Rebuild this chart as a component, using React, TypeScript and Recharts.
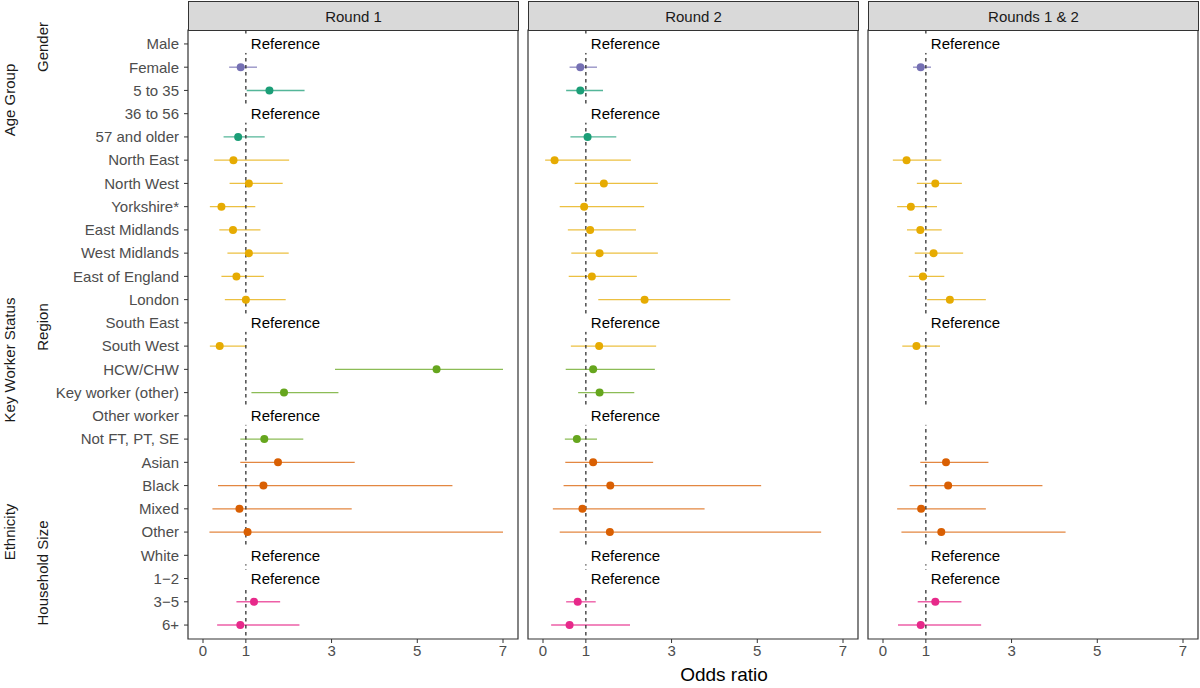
import React from "react"
import { ScatterChart, Scatter, XAxis, YAxis, ErrorBar, ReferenceArea } from "recharts"

if (typeof document !== "undefined") document.body.style.margin = "0"

const categories = [
  "Male", "Female",
  "5 to 35", "36 to 56", "57 and older",
  "North East", "North West", "Yorkshire*", "East Midlands", "West Midlands",
  "East of England", "London", "South East", "South West",
  "HCW/CHW", "Key worker (other)", "Other worker", "Not FT, PT, SE",
  "Asian", "Black", "Mixed", "Other", "White",
  "1\u22122", "3\u22125", "6+",
]

const rowGroups = [
  "Gender", "Gender",
  "Age Group", "Age Group", "Age Group",
  "Region", "Region", "Region", "Region", "Region", "Region", "Region", "Region", "Region",
  "Key Worker Status", "Key Worker Status", "Key Worker Status", "Key Worker Status",
  "Ethnicity", "Ethnicity", "Ethnicity", "Ethnicity", "Ethnicity",
  "Household Size", "Household Size", "Household Size",
]

const groupNames = ["Gender", "Age Group", "Region", "Key Worker Status", "Ethnicity", "Household Size"]
const groupColors = ["#7570B3", "#1B9E77", "#E6AB02", "#66A61E", "#D95F02", "#E7298A"]

const panelTitles = ["Round 1", "Round 2", "Rounds 1 & 2"]

// odds ratio, lower CI, upper CI (null = reference level / not estimated)
const r1Est = [null, 0.88, 1.55, null, 0.82, 0.71, 1.07, 0.43, 0.70, 1.07, 0.78, 1.00, null, 0.39, 5.45, 1.89, null, 1.43, 1.75, 1.41, 0.85, 1.04, null, null, 1.19, 0.87]
const r1Lo = [null, 0.61, 1.02, null, 0.48, 0.26, 0.62, 0.16, 0.38, 0.57, 0.43, 0.51, null, 0.16, 3.08, 1.13, null, 0.87, 0.87, 0.35, 0.22, 0.15, null, null, 0.78, 0.33]
const r1Hi = [null, 1.26, 2.37, null, 1.44, 2.01, 1.86, 1.22, 1.34, 2.00, 1.42, 1.93, null, 1.01, 7.00, 3.16, null, 2.34, 3.54, 5.82, 3.47, 7.00, null, null, 1.80, 2.25]

const r2Est = [null, 0.87, 0.87, null, 1.04, 0.27, 1.42, 0.96, 1.10, 1.32, 1.14, 2.37, null, 1.31, 1.17, 1.32, null, 0.79, 1.17, 1.57, 0.92, 1.56, null, null, 0.81, 0.62]
const r2Lo = [null, 0.62, 0.54, null, 0.64, 0.05, 0.74, 0.39, 0.58, 0.66, 0.60, 1.29, null, 0.65, 0.53, 0.82, null, 0.51, 0.52, 0.48, 0.23, 0.39, null, null, 0.54, 0.19]
const r2Hi = [null, 1.26, 1.40, null, 1.71, 2.05, 2.68, 2.36, 2.17, 2.68, 2.19, 4.37, null, 2.64, 2.61, 2.13, null, 1.26, 2.57, 5.09, 3.77, 6.49, null, null, 1.23, 2.03]

const r3Est = [null, 0.88, null, null, null, 0.55, 1.22, 0.65, 0.87, 1.18, 0.93, 1.56, null, 0.78, null, null, null, null, 1.47, 1.52, 0.89, 1.36, null, null, 1.22, 0.88]
const r3Lo = [null, 0.70, null, null, null, 0.23, 0.79, 0.33, 0.56, 0.74, 0.60, 1.03, null, 0.45, null, null, null, null, 0.87, 0.62, 0.33, 0.43, null, null, 0.81, 0.35]
const r3Hi = [null, 1.12, null, null, null, 1.36, 1.84, 1.26, 1.37, 1.87, 1.43, 2.40, null, 1.33, null, null, null, null, 2.46, 3.72, 2.40, 4.26, null, null, 1.83, 2.29]

const refRows12 = ["Male", "36 to 56", "South East", "Other worker", "White", "1\u22122"]
const refRows3 = ["Male", "South East", "Other worker", "White", "1\u22122"]
const blankRefRows3 = ["Other worker"]

const xTicks = [0, 1, 3, 5, 7]
const xDomain = [-0.35, 7.35]
const yDomain = [-0.6, 25.6]
const yTicks = categories.map((_, i) => i)

const FONT = "'Liberation Sans', Arial, Helvetica, sans-serif"

type Row = { x: number; y: number; err: [number, number] }

function buildGroup(est: (number | null)[], lo: (number | null)[], hi: (number | null)[], group: string): Row[] {
  const out: Row[] = []
  est.forEach((e, i) => {
    if (e == null || rowGroups[i] !== group) return
    out.push({ x: e, y: i, err: [e - (lo[i] as number), (hi[i] as number) - e] })
  })
  return out
}

interface PanelProps {
  est: (number | null)[]
  lo: (number | null)[]
  hi: (number | null)[]
  refRows: string[]
  blankRows: string[]
  showY: boolean
  width: number
  marginLeft: number
}

function RefLabel(props: any) {
  const { cx, cy, payload } = props
  return (
    <g>
      <rect x={cx - 2} y={cy - 9} width={74} height={18} fill="#ffffff" />
      {payload.text ? (
        <text x={cx + 5} y={cy} dy="0.36em" fontSize={15} fontFamily={FONT} fill="#000000">
          {payload.text}
        </text>
      ) : null}
    </g>
  )
}

function Panel({ est, lo, hi, refRows, blankRows, showY, width, marginLeft }: PanelProps) {
  const refData = refRows.map(r => ({
    x: 1,
    y: categories.indexOf(r),
    text: blankRows.includes(r) ? "" : "Reference",
  }))
  const vline = [{ x: 1, y: yDomain[0] }, { x: 1, y: yDomain[1] }]

  return (
    <ScatterChart width={width} height={688} margin={{ top: 30, right: 2, bottom: 25, left: marginLeft }}>
      <XAxis
        type="number"
        dataKey="x"
        domain={xDomain}
        ticks={xTicks}
        allowDataOverflow
        axisLine={false}
        tickLine={{ stroke: "#333333" }}
        tickSize={4}
        height={24}
        tick={{ fill: "#4D4D4D", fontSize: 15, fontFamily: FONT }}
      />
      <YAxis
        type="number"
        dataKey="y"
        domain={yDomain}
        ticks={yTicks}
        interval={0}
        reversed
        allowDataOverflow
        hide={!showY}
        width={188}
        axisLine={false}
        tickLine={{ stroke: "#333333" }}
        tickSize={4}
        tickMargin={5}
        tickFormatter={(v: number) => categories[v] ?? ""}
        tick={{ fill: "#4D4D4D", fontSize: 15, fontFamily: FONT }}
      />
      <Scatter
        data={vline}
        line={{ stroke: "#333333", strokeWidth: 1.3, strokeDasharray: "3.5 3.5" }}
        shape={() => <g />}
        isAnimationActive={false}
      />
      {groupNames.map((g, gi) => (
        <Scatter
          key={g}
          data={buildGroup(est, lo, hi, g)}
          fill={groupColors[gi]}
          shape={(p: any) => <circle cx={p.cx} cy={p.cy} r={4} fill={groupColors[gi]} />}
          isAnimationActive={false}
        >
          <ErrorBar
            dataKey="err"
            direction="x"
            width={0}
            stroke={groupColors[gi]}
            strokeWidth={1.4}
            strokeOpacity={0.75}
            isAnimationActive={false}
          />
        </Scatter>
      ))}
      <Scatter data={refData} shape={RefLabel} isAnimationActive={false} />
      <ReferenceArea
        x1={xDomain[0]}
        x2={xDomain[1]}
        y1={yDomain[0]}
        y2={yDomain[1]}
        fill="none"
        fillOpacity={0}
        stroke="#333333"
        strokeWidth={1.2}
        ifOverflow="visible"
      />
    </ScatterChart>
  )
}

const groupLabelStyle = (x: number, y: number): React.CSSProperties => ({
  position: "absolute",
  left: x,
  top: y,
  transform: "translate(-50%, -50%) rotate(-90deg)",
  whiteSpace: "nowrap",
  fontSize: 15,
  fontFamily: FONT,
  color: "#1A1A1A",
})

export default function App() {
  const panels = [
    { est: r1Est, lo: r1Lo, hi: r1Hi, refRows: refRows12, blankRows: [] as string[] },
    { est: r2Est, lo: r2Lo, hi: r2Hi, refRows: refRows12, blankRows: [] as string[] },
    { est: r3Est, lo: r3Lo, hi: r3Hi, refRows: refRows3, blankRows: blankRefRows3 },
  ]
  const stripLeft = [188, 528, 868]

  return (
    <div style={{ position: "relative", width: 1200, height: 688, background: "#ffffff", overflow: "hidden" }}>
      <div style={{ position: "absolute", left: 0, top: 0, display: "flex" }}>
        {panels.map((p, i) => (
          <Panel
            key={i}
            {...p}
            showY={i === 0}
            width={i === 0 ? 520 : 340}
            marginLeft={i === 0 ? 0 : 8}
          />
        ))}
      </div>
      {panelTitles.map((t, i) => (
        <div
          key={t}
          style={{
            position: "absolute",
            left: stripLeft[i],
            top: 1,
            width: 331,
            height: 30,
            boxSizing: "border-box",
            background: "#D9D9D9",
            border: "1.2px solid #333333",
            fontFamily: FONT,
            fontSize: 15,
            color: "#1A1A1A",
            display: "flex",
            alignItems: "center",
            justifyContent: "center",
          }}
        >
          {t}
        </div>
      ))}
      <div style={groupLabelStyle(42, 47)}>Gender</div>
      <div style={groupLabelStyle(9, 100)}>Age Group</div>
      <div style={groupLabelStyle(42, 327)}>Region</div>
      <div style={groupLabelStyle(9, 360)}>Key Worker Status</div>
      <div style={groupLabelStyle(9, 532)}>Ethnicity</div>
      <div style={groupLabelStyle(42, 573)}>Household Size</div>
      <div
        style={{
          position: "absolute",
          left: 724,
          top: 675,
          transform: "translate(-50%, -50%)",
          fontFamily: FONT,
          fontSize: 19,
          color: "#000000",
          whiteSpace: "nowrap",
        }}
      >
        Odds ratio
      </div>
    </div>
  )
}
